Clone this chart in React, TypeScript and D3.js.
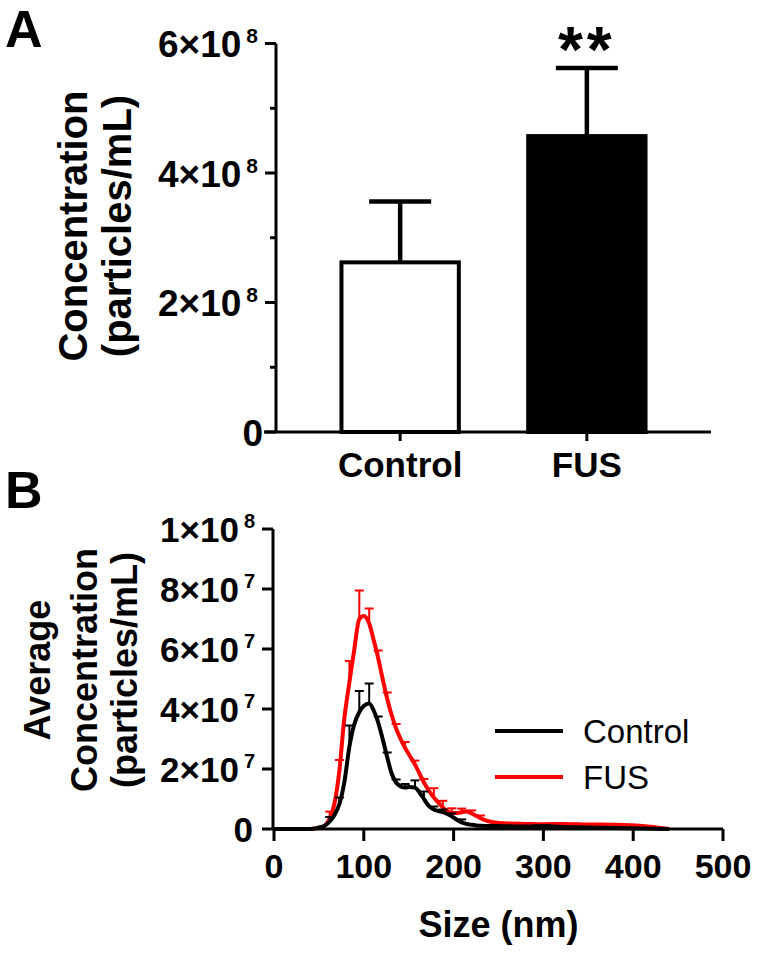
import * as d3 from 'd3';

const FONT = 'Arial, "Liberation Sans", Helvetica, sans-serif';

/* ── Panel A: mean concentration per group ── */
const groups = ['Control', 'FUS'];
const groupMeans = [2.62e8, 4.57e8];
const groupErrTops = [3.56e8, 5.62e8];
const groupFills = ['#ffffff', '#000000'];
const aMajorTicks = [0, 2e8, 4e8, 6e8];
const aMinorTicks = [1e8, 3e8, 5e8];

/* ── Panel B: size distribution (concentration in 1e7 particles/mL) ── */
const sizes = [0, 20, 40, 46, 52, 57, 62, 67, 73, 78, 84, 89, 95, 100, 106, 111, 116, 121, 126, 131, 136, 141, 146, 151, 157, 162, 167, 172, 178, 183, 188, 193, 198, 204, 209, 214, 220, 225, 230, 240, 250, 260, 280, 300, 320, 350, 380, 410, 440];
const controlConc = [0, 0, 0, 0.02, 0.06, 0.12, 0.25, 0.45, 0.85, 1.5, 2.75, 3.45, 3.9, 4.1, 4.18, 3.95, 3.55, 3.0, 2.4, 1.85, 1.55, 1.42, 1.38, 1.4, 1.38, 1.22, 1.0, 0.78, 0.65, 0.6, 0.56, 0.5, 0.42, 0.3, 0.22, 0.17, 0.14, 0.12, 0.11, 0.1, 0.1, 0.09, 0.08, 0.1, 0.07, 0.05, 0.03, 0.02, 0];
const fusConc = [0, 0, 0, 0.02, 0.05, 0.12, 0.35, 0.8, 2.0, 3.6, 4.9, 5.9, 7.0, 7.1, 6.85, 6.3, 5.7, 5.0, 4.35, 3.8, 3.35, 3.0, 2.7, 2.45, 2.15, 1.85, 1.55, 1.3, 1.05, 0.88, 0.72, 0.6, 0.53, 0.53, 0.56, 0.58, 0.52, 0.44, 0.36, 0.25, 0.2, 0.18, 0.17, 0.16, 0.17, 0.15, 0.14, 0.1, 0];
const controlErrSizes = [62, 73, 84, 95, 106, 116, 126, 136, 146, 157, 167, 178, 188, 198, 209];
const controlErrTops = [0.4, 1.05, 3.45, 4.6, 4.85, 3.75, 2.55, 1.65, 1.5, 1.62, 1.25, 0.75, 0.65, 0.52, 0.32];
const fusErrSizes = [62, 73, 84, 95, 106, 116, 126, 136, 146, 157, 167, 178, 188, 198, 209, 220, 230];
const fusErrTops = [0.58, 2.3, 5.6, 7.95, 7.35, 5.95, 4.55, 3.5, 2.9, 2.28, 1.67, 1.36, 0.94, 0.69, 0.68, 0.62, 0.45];
const bYTicks = [0, 2e7, 4e7, 6e7, 8e7, 1e8];
const bXTicks = [0, 100, 200, 300, 400, 500];

const series = [
  { name: 'FUS', color: '#ff0000', conc: fusConc, errSizes: fusErrSizes, errTops: fusErrTops },
  { name: 'Control', color: '#000000', conc: controlConc, errSizes: controlErrSizes, errTops: controlErrTops },
];

// split a value into mantissa × 10^exp for the tick labels
const sci = (v: number) => {
  if (v === 0) return { mant: '0', exp: '' };
  const exp = Math.floor(Math.log10(v) + 1e-9);
  return { mant: String(Math.round(v / Math.pow(10, exp))), exp: String(exp) };
};

function SciLabel({ v, x, y, size, supSize }: { v: number; x: number; y: number; size: number; supSize: number }) {
  const s = sci(v);
  return (
    <text x={x} y={y} textAnchor="end" fontFamily={FONT} fontWeight="bold" fontSize={size}>
      {s.exp ? (
        <>
          <tspan>{s.mant}×10</tspan>
          <tspan dx={5} dy={-14} fontSize={supSize}>{s.exp}</tspan>
        </>
      ) : (
        s.mant
      )}
    </text>
  );
}

function PanelA() {
  const x = d3.scaleBand<string>().domain(groups).range([276, 711]).paddingInner(0.35).paddingOuter(0.34);
  const y = d3.scaleLinear().domain([0, 6e8]).range([432, 43.5]);
  const bw = x.bandwidth();
  const capHalf = 31;

  return (
    <g>
      <text x={5} y={47} fontFamily={FONT} fontWeight="bold" fontSize={52}>A</text>

      {/* y title */}
      <g fontFamily={FONT} fontWeight="bold" fontSize={40} textAnchor="middle">
        <text transform={`translate(87,226) rotate(-90)`}>Concentration</text>
        <text transform={`translate(131,226) rotate(-90)`}>(particles/mL)</text>
      </g>

      {/* bars + error bars */}
      {groups.map((g, i) => {
        const cx = (x(g) ?? 0) + bw / 2;
        return (
          <g key={g}>
            <line x1={cx} x2={cx} y1={y(groupMeans[i])} y2={y(groupErrTops[i])} stroke="#000" strokeWidth={4.5} />
            <line x1={cx - capHalf} x2={cx + capHalf} y1={y(groupErrTops[i])} y2={y(groupErrTops[i])} stroke="#000" strokeWidth={4.5} />
            <rect x={(x(g) ?? 0) + 2} y={y(groupMeans[i])} width={bw - 4} height={y(0) - y(groupMeans[i])}
              fill={groupFills[i]} stroke="#000" strokeWidth={4} />
          </g>
        );
      })}

      {/* axes */}
      <line x1={276} x2={276} y1={y(6e8)} y2={y(0)} stroke="#000" strokeWidth={3} />
      <line x1={264} x2={711} y1={y(0)} y2={y(0)} stroke="#000" strokeWidth={3} />
      {aMajorTicks.map(t => (
        <g key={t}>
          <line x1={265} x2={276} y1={y(t)} y2={y(t)} stroke="#000" strokeWidth={3} />
          <SciLabel v={t} x={t === 0 ? 263 : 258} y={y(t) + 13.5} size={37} supSize={21} />
        </g>
      ))}
      {aMinorTicks.map(t => (
        <line key={t} x1={270} x2={276} y1={y(t)} y2={y(t)} stroke="#000" strokeWidth={3} />
      ))}
      {groups.map(g => {
        const cx = (x(g) ?? 0) + bw / 2;
        return (
          <g key={g}>
            <line x1={cx} x2={cx} y1={y(0)} y2={y(0) + 9} stroke="#000" strokeWidth={3} />
            <text x={cx} y={477} textAnchor="middle" fontFamily={FONT} fontWeight="bold" fontSize={35}>{g}</text>
          </g>
        );
      })}

      {/* significance */}
      <text x={(x('FUS') ?? 0) + bw / 2} y={72} textAnchor="middle" fontFamily={FONT} fontWeight="bold" fontSize={64} letterSpacing={4}>**</text>
    </g>
  );
}

function PanelB() {
  const x = d3.scaleLinear().domain([0, 500]).range([274, 723]);
  const y = d3.scaleLinear().domain([0, 1e8]).range([829, 529]);
  const line = d3.line<number>()
    .x((_, i) => x(sizes[i]))
    .y(d => y(d * 1e7))
    .curve(d3.curveMonotoneX);

  return (
    <g>
      <text x={5} y={508} fontFamily={FONT} fontWeight="bold" fontSize={52}>B</text>

      {/* y title */}
      <g fontFamily={FONT} fontWeight="bold" fontSize={36} textAnchor="middle">
        <text transform={`translate(50,670) rotate(-90)`}>Average</text>
        <text transform={`translate(97,670) rotate(-90)`}>Concentration</text>
        <text transform={`translate(137,670) rotate(-90)`}>(particles/mL)</text>
      </g>

      {/* curves with upward error bars */}
      {series.map(s => (
        <g key={s.name}>
          {s.errSizes.map((sz, i) => {
            const base = s.conc[sizes.indexOf(sz)];
            const cx = x(sz);
            return (
              <g key={sz}>
                <line x1={cx} x2={cx} y1={y(base * 1e7)} y2={y(s.errTops[i] * 1e7)} stroke={s.color} strokeWidth={2} />
                <line x1={cx - 4.5} x2={cx + 4.5} y1={y(s.errTops[i] * 1e7)} y2={y(s.errTops[i] * 1e7)} stroke={s.color} strokeWidth={2} />
              </g>
            );
          })}
          <path d={line(s.conc) ?? ''} fill="none" stroke={s.color} strokeWidth={4} strokeLinejoin="round" />
        </g>
      ))}

      {/* axes */}
      <line x1={273} x2={273} y1={y(1e8)} y2={y(0)} stroke="#000" strokeWidth={3} />
      <line x1={273} x2={723} y1={y(0)} y2={y(0)} stroke="#000" strokeWidth={3} />
      {bYTicks.map(t => (
        <g key={t}>
          <line x1={262} x2={273} y1={y(t)} y2={y(t)} stroke="#000" strokeWidth={3} />
          <SciLabel v={t} x={t === 0 ? 253 : 255} y={y(t) + 13} size={35} supSize={20} />
        </g>
      ))}
      {bXTicks.map(t => (
        <g key={t}>
          <line x1={x(t)} x2={x(t)} y1={y(0)} y2={y(0) + 12} stroke="#000" strokeWidth={3} />
          <text x={x(t)} y={878} textAnchor="middle" fontFamily={FONT} fontWeight="bold" fontSize={34}>{t}</text>
        </g>
      ))}
      <text x={(x(0) + x(500)) / 2} y={937} textAnchor="middle" fontFamily={FONT} fontWeight="bold" fontSize={36}>Size (nm)</text>

      {/* legend */}
      {[...series].reverse().map((s, i) => (
        <g key={s.name}>
          <line x1={495} x2={563} y1={731 + i * 46} y2={731 + i * 46} stroke={s.color} strokeWidth={4} />
          <text x={583} y={743 + i * 46} fontFamily={FONT} fontSize={33}>{s.name}</text>
        </g>
      ))}
    </g>
  );
}

export default function App() {
  return (
    <div style={{ position: 'absolute', left: 0, top: 0 }}>
      <svg width={762} height={957} style={{ display: 'block', background: '#fff' }}>
        <PanelA />
        <PanelB />
      </svg>
    </div>
  );
}
